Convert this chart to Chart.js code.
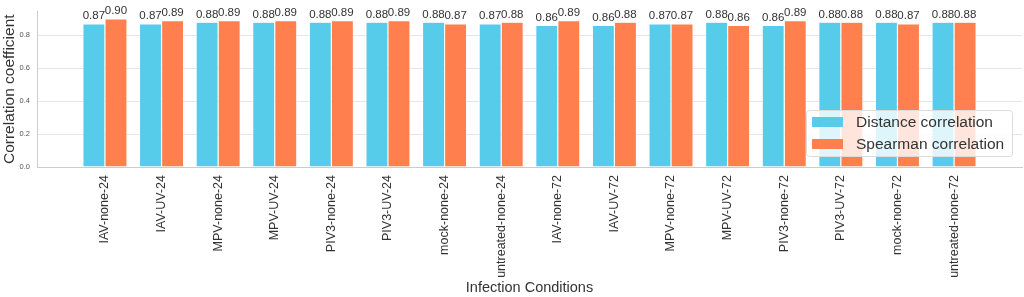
<!DOCTYPE html>
<html>
<head>
<meta charset="utf-8">
<script src="https://cdn.jsdelivr.net/npm/chart.js@4.4.1/dist/chart.umd.min.js"></script>
<style>
  body { margin: 0; background: #fff; }
  #wrap { width: 1024px; height: 297px; }
</style>
</head>
<body>
<div id="wrap"><canvas id="chart"></canvas></div>
<script>
const conditions = [
  "IAV-none-24", "IAV-UV-24", "MPV-none-24", "MPV-UV-24",
  "PIV3-none-24", "PIV3-UV-24", "mock-none-24", "untreated-none-24",
  "IAV-none-72", "IAV-UV-72", "MPV-none-72", "MPV-UV-72",
  "PIV3-none-72", "PIV3-UV-72", "mock-none-72", "untreated-none-72"
];
const distanceCorr = [0.87, 0.87, 0.88, 0.88, 0.88, 0.88, 0.88, 0.87, 0.86, 0.86, 0.87, 0.88, 0.86, 0.88, 0.88, 0.88];
const spearmanCorr = [0.90, 0.89, 0.89, 0.89, 0.89, 0.89, 0.87, 0.88, 0.89, 0.88, 0.87, 0.86, 0.89, 0.88, 0.87, 0.88];
const seriesNames = ["Distance correlation", "Spearman correlation"];
const seriesColors = ["#56cbea", "#ff7f4f"];

const FONT = "'Liberation Sans', Arial, sans-serif";

// value labels above each bar
const barLabels = {
  id: "barLabels",
  afterDatasetsDraw(chart) {
    const ctx = chart.ctx;
    ctx.save();
    ctx.font = "11.5px " + FONT;
    ctx.fillStyle = "#333";
    ctx.textAlign = "center";
    ctx.textBaseline = "bottom";
    chart.data.datasets.forEach((ds, i) => {
      chart.getDatasetMeta(i).data.forEach((bar, j) => {
        ctx.fillText(ds.data[j].y.toFixed(2), bar.x, bar.y - 2);
      });
    });
    ctx.restore();
  }
};

// legend box in the lower right of the plot
const boxLegend = {
  id: "boxLegend",
  afterDraw(chart) {
    const ctx = chart.ctx;
    ctx.save();
    ctx.fillStyle = "rgba(255,255,255,0.8)";
    ctx.strokeStyle = "#dcdcdc";
    ctx.lineWidth = 1;
    ctx.beginPath();
    ctx.roundRect(806.5, 110.5, 206, 46, 3);
    ctx.fill();
    ctx.stroke();
    ctx.font = "15.5px " + FONT;
    ctx.textBaseline = "middle";
    seriesNames.forEach((name, i) => {
      const cy = 122 + i * 22;
      ctx.fillStyle = seriesColors[i];
      ctx.fillRect(812, cy - 5, 31, 10);
      ctx.fillStyle = "#333";
      ctx.fillText(name, 856, cy + 1);
    });
    ctx.restore();
  }
};

new Chart(document.getElementById("chart"), {
  type: "bar",
  data: {
    datasets: [
      {
        label: seriesNames[0],
        data: distanceCorr.map((v, i) => ({ x: i, y: v })),
        backgroundColor: seriesColors[0],
      },
      {
        label: seriesNames[1],
        data: spearmanCorr.map((v, i) => ({ x: i, y: v })),
        backgroundColor: seriesColors[1],
      },
    ].map((d) => ({
      ...d,
      borderColor: "#fff",
      borderWidth: 0.6,
      categoryPercentage: 0.78,
      barPercentage: 1,
    })),
  },
  options: {
    responsive: true,
    maintainAspectRatio: false,
    animation: false,
    layout: { padding: { top: 9, right: 2, left: 0, bottom: 0 } },
    plugins: {
      legend: { display: false },
      tooltip: { enabled: false },
    },
    scales: {
      x: {
        type: "linear",
        offset: false,
        min: -1.2,
        max: 16.2,
        afterFit: (scale) => {
          scale.height = 130;
          scale.paddingLeft = 0;
          scale.paddingRight = 0;
        },
        grid: { display: false, drawTicks: false, offset: false },
        border: { display: true, color: "#cccccc" },
        ticks: {
          stepSize: 1,
          includeBounds: false,
          autoSkip: false,
          minRotation: 90,
          maxRotation: 90,
          padding: 8,
          color: "#333",
          font: { family: FONT, size: 12.5 },
          callback: (v) => (Number.isInteger(v) && conditions[v]) ? conditions[v] : "",
        },
        title: {
          display: true,
          text: "Infection Conditions",
          color: "#333",
          padding: { top: 0, bottom: 0 },
          font: { family: FONT, size: 14.5 },
        },
      },
      y: {
        min: 0,
        max: 0.945,
        afterFit: (scale) => { scale.width = 37; },
        grid: { color: "#e6e6e6", drawTicks: false },
        border: { display: true, color: "#cccccc" },
        ticks: {
          stepSize: 0.2,
          includeBounds: false,
          padding: 7,
          color: "#555",
          font: { family: FONT, size: 7.5 },
          callback: (v) => v.toFixed(1),
        },
        title: {
          display: true,
          text: "Correlation coefficient",
          color: "#333",
          padding: { top: 0, bottom: 0 },
          font: { family: FONT, size: 15.5 },
        },
      },
    },
  },
  plugins: [barLabels, boxLegend],
});
</script>
</body>
</html>
